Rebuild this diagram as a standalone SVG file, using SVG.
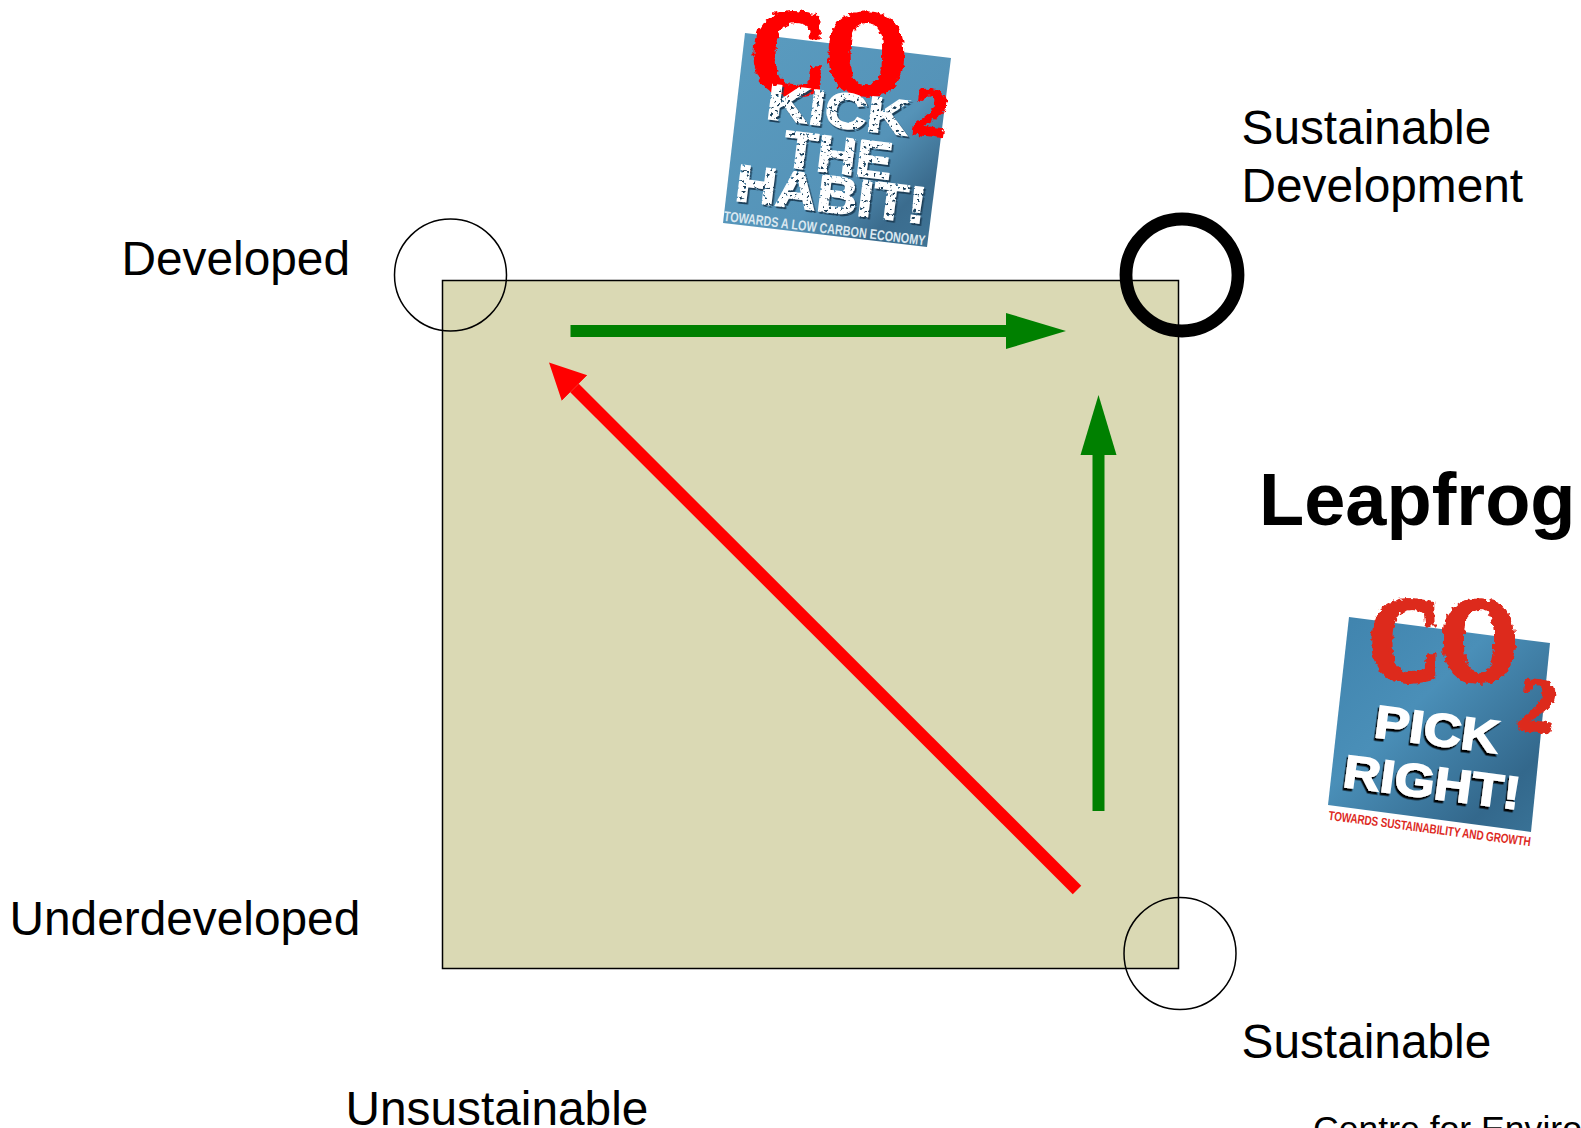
<svg xmlns="http://www.w3.org/2000/svg" width="1581" height="1128" viewBox="0 0 1581 1128">
<style>
text{font-family:"Liberation Sans",Arial,sans-serif}
.l{font-size:47.800px;fill:#000}
.ring{fill:none;stroke:#000;stroke-width:1.5}
.g{stroke:#008000;stroke-width:12;fill:none}
.r{stroke:#f00;stroke-width:12;fill:none}
.co{font-family:"Liberation Serif",serif;font-weight:bold;stroke-width:6}
.b{font-weight:bold;fill:#fff;stroke:#fff;stroke-width:1.6;text-anchor:middle}
.s{font-weight:bold;text-anchor:middle}
</style>
<defs>
<marker id="gh" markerUnits="userSpaceOnUse" markerWidth="60" markerHeight="38" refX="0" refY="19" orient="auto"><path d="M0,1L60,19L0,37z" fill="#008000"/></marker>
<marker id="rh" markerUnits="userSpaceOnUse" markerWidth="36" markerHeight="38" refX="0" refY="19" orient="auto"><path d="M0,1L36,19L0,37z" fill="#f00"/></marker>
<linearGradient id="bl1" x1="0" y1="0" x2="1" y2="1"><stop offset="0" stop-color="#5a9cc0"/><stop offset=".6" stop-color="#5593b8"/><stop offset=".8" stop-color="#3b6c8e"/><stop offset="1" stop-color="#3f7698"/></linearGradient>
<linearGradient id="bl2" x1="0" y1="0" x2="1" y2="1"><stop offset="0" stop-color="#3f83ad"/><stop offset=".4" stop-color="#4a8fb8"/><stop offset=".8" stop-color="#33688c"/><stop offset="1" stop-color="#3a7498"/></linearGradient>
<filter id="rough" x="-10%" y="-10%" width="120%" height="120%"><feTurbulence type="fractalNoise" baseFrequency=".2" numOctaves="2" seed="3"/><feDisplacementMap in="SourceGraphic" scale="7" xChannelSelector="R" yChannelSelector="G"/></filter>
<filter id="speck" x="-10%" y="-10%" width="120%" height="120%" color-interpolation-filters="sRGB"><feTurbulence type="fractalNoise" baseFrequency=".3" numOctaves="2" seed="5" result="n"/><feColorMatrix in="n" type="matrix" values="0 0 0 0 0 0 0 0 0 0 0 0 0 0 0 -12 0 0 0 8.300" result="m"/><feComposite in="SourceGraphic" in2="m" operator="in" result="t"/><feDropShadow in="t" dx="1.500" dy="2" stdDeviation=".6" flood-color="#1d3f58"/></filter>
<filter id="shad" x="-10%" y="-10%" width="120%" height="120%"><feDropShadow dx="-1.500" dy="2.500" stdDeviation=".3" flood-color="#000"/></filter>
</defs>
<g id="square"><rect x="442.500" y="280.500" width="736" height="688" fill="#dad9b4" stroke="#000" stroke-width="1.5"/></g>
<g id="connectors">
<path class="g" d="M570.500,331H1006" marker-end="url(#gh)"/>
<path class="g" d="M1098.500,811V455" marker-end="url(#gh)"/>
<path class="r" d="M1077,890L574.500,388" marker-end="url(#rh)"/>
</g>
<g id="node-developed"><circle class="ring" cx="450.500" cy="275" r="56"/><text class="l" x="121.500" y="275">Developed</text></g>
<g id="node-sustainable-development"><circle cx="1182" cy="275" r="56" fill="none" stroke="#000" stroke-width="12.800"/><text class="l" x="1241.500" y="144">Sustainable</text><text class="l" x="1241.500" y="202">Development</text></g>
<g id="node-sustainable"><circle class="ring" cx="1180" cy="953.500" r="56"/><text class="l" x="1241.500" y="1058">Sustainable</text></g>
<g id="node-underdeveloped"><text class="l" x="9.500" y="935">Underdeveloped</text></g>
<g id="node-unsustainable"><text class="l" x="345.500" y="1125">Unsustainable</text></g>
<g id="title"><text x="1259" y="525" font-size="74" font-weight="bold" fill="#000">Leapfrog</text></g>
<g id="credit"><text x="1313" y="1141" font-size="35.600" fill="#000">Centre for Enviro</text></g>
<g id="badge-kick">
<polygon points="745,33 951,58 927,247 723,223" fill="url(#bl1)"/>
<g filter="url(#rough)">
<text class="co" fill="#f00" stroke="#f00" transform="translate(751,93) scale(.88,1)" font-size="118">CO</text>
<text class="co" fill="#f00" stroke="#f00" style="stroke-width:2.500" transform="translate(911,133) rotate(7)" font-size="68">2</text>
</g>
<g filter="url(#speck)">
<text class="b" font-size="50" textLength="143" lengthAdjust="spacingAndGlyphs" transform="translate(836,127) rotate(7)">KICK</text>
<text class="b" font-size="52" textLength="109" lengthAdjust="spacingAndGlyphs" transform="translate(836,173) rotate(7)">THE</text>
<text class="b" font-size="52" textLength="192" lengthAdjust="spacingAndGlyphs" transform="translate(829,212) rotate(7)">HABIT!</text>
</g>
<text class="s" fill="#dbe8f0" font-size="10.800" textLength="203" lengthAdjust="spacing" transform="translate(824,233) rotate(7) scale(1,1.3)">TOWARDS A LOW CARBON ECONOMY</text>
</g>
<g id="badge-pick">
<polygon points="1349,617 1550,643 1531,832 1328,805" fill="url(#bl2)"/>
<g filter="url(#rough)">
<text class="co" fill="#dd2a1f" stroke="#dd2a1f" transform="translate(1369,680) scale(.84,1)" font-size="118">CO</text>
<text class="co" fill="#dd2a1f" stroke="#dd2a1f" style="stroke-width:2.500" transform="translate(1516,728) rotate(7)" font-size="76">2</text>
</g>
<g filter="url(#shad)">
<text class="b" font-size="46" textLength="125" lengthAdjust="spacingAndGlyphs" transform="translate(1435,745) rotate(7.500)">PICK</text>
<text class="b" font-size="46" textLength="178" lengthAdjust="spacingAndGlyphs" transform="translate(1430,798) rotate(7.500)">RIGHT!</text>
</g>
<text class="s" fill="#dd2a1f" font-size="10" textLength="204" lengthAdjust="spacing" transform="translate(1429,833) rotate(7.500) scale(1,1.3)">TOWARDS SUSTAINABILITY AND GROWTH</text>
</g>
</svg>
